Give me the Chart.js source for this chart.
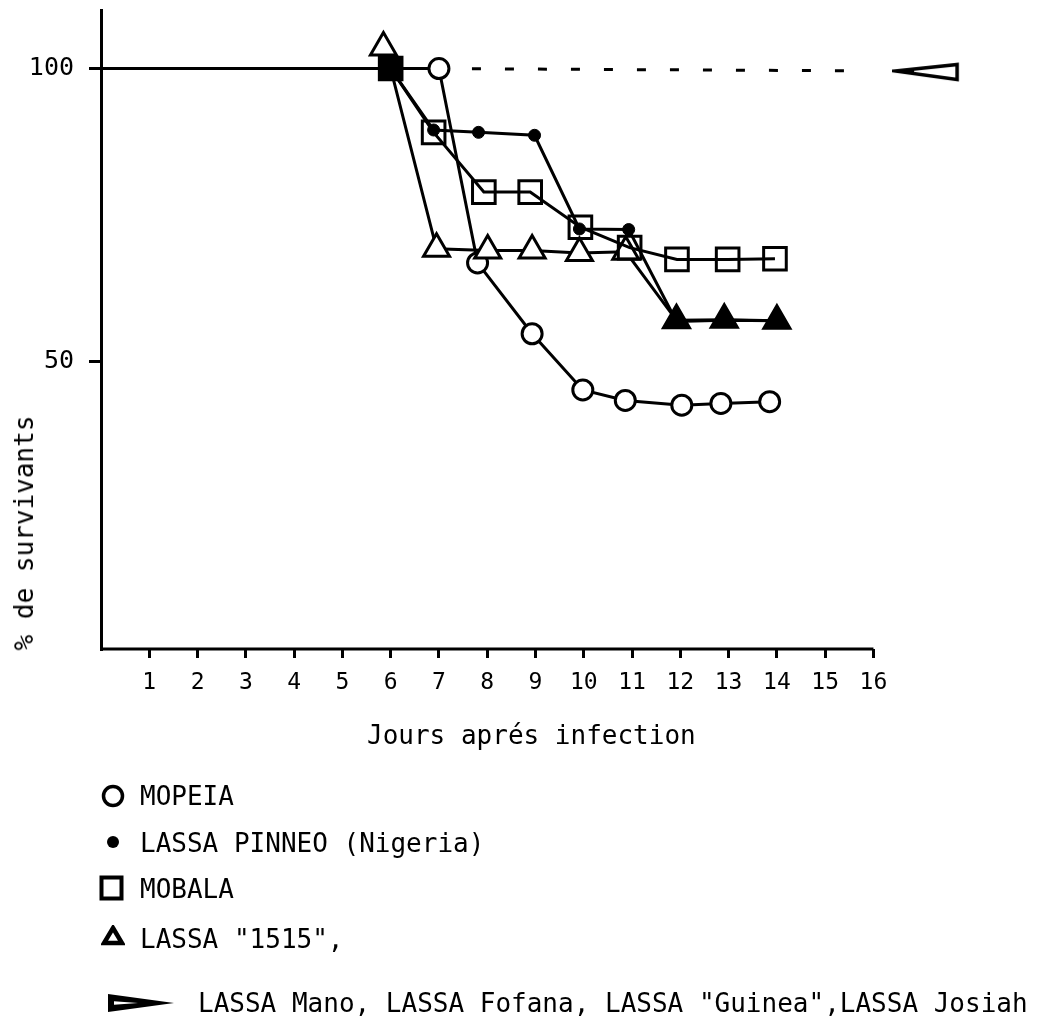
<!DOCTYPE html>
<html>
<head>
<meta charset="utf-8">
<script src="https://cdn.jsdelivr.net/npm/chart.js@4.4.0/dist/chart.umd.min.js"></script>
<style>
  html, body { margin: 0; padding: 0; background: #fff; overflow: hidden; }
  #wrap { position: relative; width: 1055px; height: 1021px; }
  #c { position: absolute; left: 0; top: 0; }
  .t { position: absolute; font-family: "DejaVu Sans Mono", monospace; font-size: 26px; color: #000; white-space: nowrap; line-height: 1; }
  .sym { position: absolute; }
</style>
</head>
<body>
<div id="wrap">
  <canvas id="c" width="1055" height="1021"></canvas>
  <div class="t" id="xtitle" style="left:367px; top:722px;">Jours aprés infection</div>
  <div class="t" id="ytitle" style="left:24px; top:533px; transform: translate(-50%,-50%) rotate(-90deg);">% de survivants</div>

  <svg class="sym" style="left:100px; top:783px;" width="26" height="26"><circle cx="13" cy="13" r="9.5" fill="none" stroke="#000" stroke-width="3.5"/></svg>
  <div class="t" style="left:140px; top:783px;">MOPEIA</div>

  <svg class="sym" style="left:104px; top:833px;" width="18" height="18"><circle cx="9" cy="9" r="6" fill="#000"/></svg>
  <div class="t" style="left:140px; top:830px;">LASSA PINNEO (Nigeria)</div>

  <svg class="sym" style="left:99px; top:875px;" width="26" height="26"><rect x="2.5" y="2.5" width="20" height="21" fill="none" stroke="#000" stroke-width="4"/></svg>
  <div class="t" style="left:140px; top:876px;">MOBALA</div>

  <svg class="sym" style="left:101px; top:925px;" width="24" height="22"><polygon points="12,3 21,18 3,18" fill="none" stroke="#000" stroke-width="4.5" stroke-linejoin="miter"/></svg>
  <div class="t" style="left:140px; top:926px;">LASSA "1515",</div>

  <svg class="sym" style="left:106px; top:992px;" width="70" height="22"><polygon points="2,2 68,11 2,20" fill="#000"/><polygon points="8,9.2 32,11 8,12.8" fill="#fff"/></svg>
  <div class="t" style="left:198px; top:990px;">LASSA Mano, LASSA Fofana, LASSA "Guinea",LASSA Josiah</div>
</div>
<script>
// ---- data ----
const xTickDays = [1, 2, 3, 4, 5, 6, 7, 8, 9, 10, 11, 12, 13, 14, 15, 16];
const yTickValues = [50, 100];

const mopeiaDays = [0, 6, 7, 7.8, 8.93, 9.98, 10.86, 12.03, 12.84, 13.85];
const mopeiaPct  = [100, 100, 100, 66.8, 54.7, 45.1, 43.3, 42.5, 42.8, 43.1];

const pinneoDays = [6, 6.89, 7.82, 8.98, 9.91, 10.93, 11.92, 12.91, 14.0];
const pinneoPct  = [100, 89.5, 89.1, 88.6, 72.6, 72.5, 56.8, 57.0, 56.9];

const mobalaDays = [6, 6.89, 7.93, 8.89, 9.93, 10.95, 11.93, 12.98, 13.96];
const mobalaPct  = [100, 89.1, 78.9, 78.9, 72.9, 69.4, 67.4, 67.4, 67.5];

const l1515Days = [5.85, 6, 6.95, 8.01, 8.93, 9.91, 10.87, 11.92, 12.91, 14.0];
const l1515Pct  = [103.6, 100, 69.2, 68.9, 68.9, 68.5, 68.7, 57.0, 57.1, 56.9];

const otherDays = [7, 15.77, 17.09];
const otherPct  = [100, 99.6, 99.4];

const xy = (d, v) => d.map((x, i) => ({ x: x, y: v[i] }));

// arrow marker for the "other" strains
const arrow = document.createElement('canvas');
arrow.width = 68; arrow.height = 20;
(function () {
  const c = arrow.getContext('2d');
  c.strokeStyle = '#000'; c.fillStyle = '#000'; c.lineWidth = 3.5; c.lineJoin = 'miter';
  c.beginPath(); c.moveTo(3, 9); c.lineTo(65, 2.5); c.lineTo(65, 17.5); c.closePath(); c.stroke();
  c.beginPath(); c.moveTo(2, 9); c.lineTo(22, 6.5); c.lineTo(22, 12); c.closePath(); c.fill();
})();

const K = '#000';
const axisLinePlugin = {
  id: 'axisLine',
  beforeDatasetsDraw(chart) {
    const ctx = chart.ctx, xs = chart.scales.x, a = chart.chartArea;
    ctx.save();
    ctx.strokeStyle = K; ctx.lineWidth = 3;
    ctx.beginPath();
    ctx.moveTo(xs.getPixelForValue(0) - 1, a.bottom);
    ctx.lineTo(xs.getPixelForValue(16), a.bottom);
    ctx.stroke();
    ctx.restore();
  }
};

new Chart(document.getElementById('c'), {
  type: 'line',
  data: {
    datasets: [
      {
        label: 'LASSA PINNEO (Nigeria)', data: xy(pinneoDays, pinneoPct),
        borderColor: K, borderWidth: 3, pointStyle: 'circle', pointRadius: 6,
        pointBackgroundColor: K, pointBorderColor: K, pointBorderWidth: 1
      },
      {
        label: 'MOBALA', data: xy(mobalaDays, mobalaPct),
        borderColor: K, borderWidth: 3, pointStyle: 'rect', pointRadius: 16,
        pointBackgroundColor: mobalaDays.map((d, i) => i === 0 ? K : 'rgba(255,255,255,0)'),
        pointBorderColor: K, pointBorderWidth: 3
      },
      {
        label: 'LASSA "1515"', data: xy(l1515Days, l1515Pct),
        borderColor: K, borderWidth: 3, pointStyle: 'triangle',
        pointRadius: l1515Days.map((d, i) => i === 1 ? 0 : 15),
        pointBackgroundColor: l1515Days.map((d, i) => i >= 7 ? K : '#fff'),
        pointBorderColor: K, pointBorderWidth: 3,
        segment: { borderColor: ctx => ctx.p0DataIndex === 0 ? 'rgba(0,0,0,0)' : K }
      },
      {
        label: 'MOPEIA', data: xy(mopeiaDays, mopeiaPct),
        borderColor: K, borderWidth: 3, pointStyle: 'circle',
        pointRadius: mopeiaDays.map((d, i) => i < 2 ? 0 : 10),
        pointBackgroundColor: '#fff', pointBorderColor: K, pointBorderWidth: 3
      },
      {
        label: 'LASSA Mano, LASSA Fofana, LASSA "Guinea",LASSA Josiah', data: xy(otherDays, otherPct),
        borderColor: K, borderWidth: 3, borderDash: [9, 24],
        pointStyle: otherDays.map((d, i) => i === otherDays.length - 1 ? arrow : 'circle'),
        pointRadius: otherDays.map((d, i) => i === otherDays.length - 1 ? 10 : 0),
        segment: { borderColor: ctx => ctx.p1DataIndex === otherDays.length - 1 ? 'rgba(0,0,0,0)' : K }
      }
    ]
  },
  options: {
    responsive: false,
    animation: false,
    events: [],
    layout: { autoPadding: false, padding: { left: 0, right: 85, top: 10, bottom: 312 } },
    plugins: { legend: { display: false }, tooltip: { enabled: false } },
    elements: { line: { tension: 0 } },
    scales: {
      x: {
        type: 'linear', min: 0, max: 18,
        afterBuildTicks: s => { s.ticks = xTickDays.map(v => ({ value: v })); },
        afterFit: s => { s.height = 60; s.paddingLeft = 0; s.paddingRight = 0; },
        border: { display: false },
        grid: { display: true, drawOnChartArea: false, drawTicks: true, tickLength: 9, color: K, lineWidth: 3 },
        ticks: { color: K, padding: 11, font: { family: 'DejaVu Sans Mono', size: 23 }, maxRotation: 0, autoSkip: false }
      },
      y: {
        type: 'linear', min: 0.85, max: 110,
        afterBuildTicks: s => { s.ticks = yTickValues.map(v => ({ value: v })); },
        afterFit: s => { s.width = 101; s.paddingTop = 0; s.paddingBottom = 0; },
        border: { display: true, color: K, width: 3 },
        grid: { display: true, drawOnChartArea: false, drawTicks: true, tickLength: 12, color: K, lineWidth: 3 },
        ticks: { color: K, padding: 15, font: { family: 'DejaVu Sans Mono', size: 25 } }
      }
    }
  },
  plugins: [axisLinePlugin]
});
</script>
</body>
</html>
